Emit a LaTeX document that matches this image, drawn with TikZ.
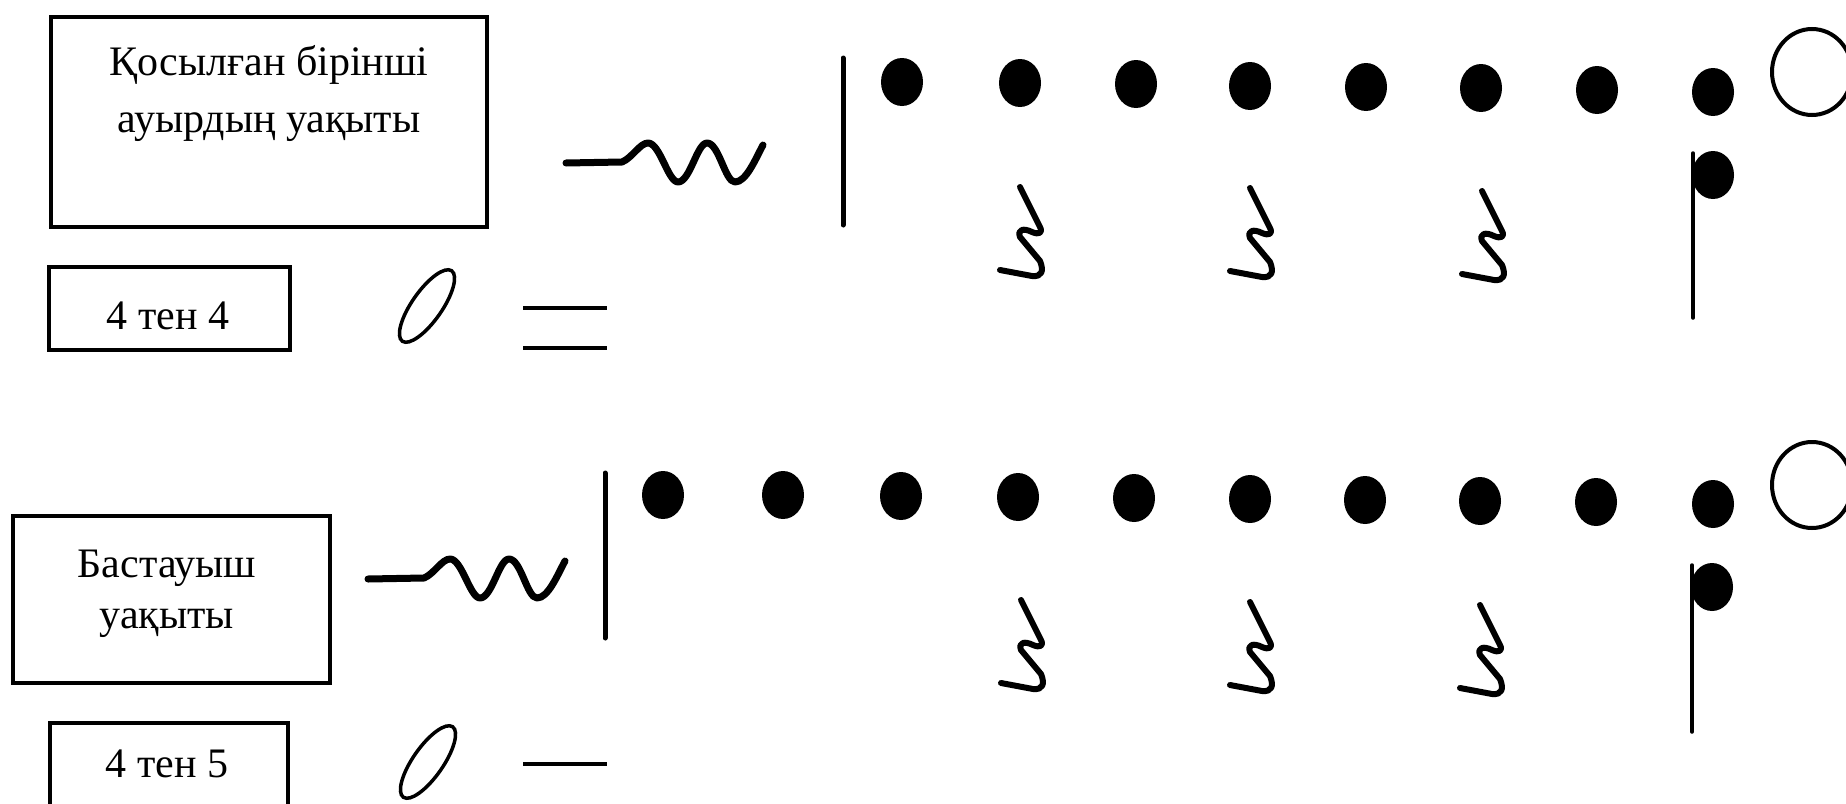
\documentclass[tikz,border=0pt]{standalone}
\usepackage{fontspec}
\setmainfont{Liberation Serif}
\begin{document}
\begin{tikzpicture}[x=1pt,y=-1pt,
  boxst/.style={draw,line width=3.5pt,inner sep=0pt},
  lbl/.style={anchor=base,inner sep=0pt,font=\fontsize{42}{50}\selectfont},
  waveline/.style={line width=7pt,line cap=round,line join=round},
  restline/.style={line width=6pt,line cap=round,line join=round},
  barline/.style={line width=5pt,line cap=round},
  stemline/.style={line width=3.5pt,line cap=round},
  zeroline/.style={line width=3.5pt},
  eqline/.style={line width=4pt},
  ringline/.style={line width=4pt},
  qrest/.pic={\draw[restline] (0,0) -- (20,40) .. controls (23,46) and (19,48) .. (12,45)
      .. controls (4,41) and (-3,42) .. (0,50) -- (20,74) .. controls (24,84) and (22,90) .. (12,89) -- (-20,83);},
  wavepic/.pic={\draw[waveline] (0,0) -- (56,-1) .. controls (66,-5) and (74,-20) .. (82,-20)
      .. controls (94,-20) and (102,19) .. (112,19) .. controls (124,19) and (131,-20) .. (141,-20)
      .. controls (153,-20) and (159,19) .. (169,19) .. controls (180,19) and (189,-3) .. (197,-18);}
]
\useasboundingbox (0,0) rectangle (1846,803);
\clip (0,0) rectangle (1846,803);

% ---------- top row ----------
\node[boxst,minimum width=436pt,minimum height=210pt] (box1) at (269,122) {};
\node[lbl] (t1a) at (269,75) {Қосылған бірінші};
\node[lbl] (t1b) at (269,132) {ауырдың уақыты};

\node[boxst,minimum width=241pt,minimum height=83pt] (box2) at (169.5,308.5) {};
\node[lbl] (t2) at (168,329) {4 тен 4};

\draw[zeroline,rotate around={55:(427,306)}] (427,306) ellipse [x radius=43pt,y radius=15pt];
\draw[eqline] (523,308) -- (607,308);
\draw[eqline] (523,348) -- (607,348);

\pic at (566,163) {wavepic};
\draw[barline] (843,58) -- (843,225);

\foreach \x/\y in {902/82,1020/83,1136/84,1250/86,1366/87,1481/88,1597/90,1713/92}
  \fill (\x,\y) ellipse [x radius=21pt,y radius=24pt];
\draw[ringline] (1812,72) ellipse [x radius=40pt,y radius=43pt];

\pic at (1020,187) {qrest};
\pic at (1250,188) {qrest};
\pic at (1482,191) {qrest};

\draw[stemline] (1693,153) -- (1693,318);
\fill (1713,175) ellipse [x radius=21pt,y radius=24pt];

% ---------- bottom row ----------
\node[boxst,minimum width=317pt,minimum height=167pt] (box3) at (171.5,599.5) {};
\node[lbl] (t3a) at (167,577) {Бастауыш};
\node[lbl] (t3b) at (167,628) {уақыты};

\node[boxst,minimum width=238pt,minimum height=110pt] (box4) at (169,778) {};
\node[lbl] (t4) at (167,777) {4 тен 5};

\draw[zeroline,rotate around={55:(428,762)}] (428,762) ellipse [x radius=43pt,y radius=15pt];
\draw[eqline] (523,764) -- (607,764);

\pic at (368,579) {wavepic};
\draw[barline] (605,473) -- (605,638);

\foreach \x/\y in {663/495,783/495,901/496,1018/497,1134/498,1250/499,1365/500,1480/501,1596/502,1713/504}
  \fill (\x,\y) ellipse [x radius=21pt,y radius=24pt];
\draw[ringline] (1812,485) ellipse [x radius=40pt,y radius=43pt];

\pic at (1021,600) {qrest};
\pic at (1250,602) {qrest};
\pic at (1480,605) {qrest};

\draw[stemline] (1692,565) -- (1692,732);
\fill (1712,587) ellipse [x radius=21pt,y radius=24pt];
\end{tikzpicture}
\end{document}
